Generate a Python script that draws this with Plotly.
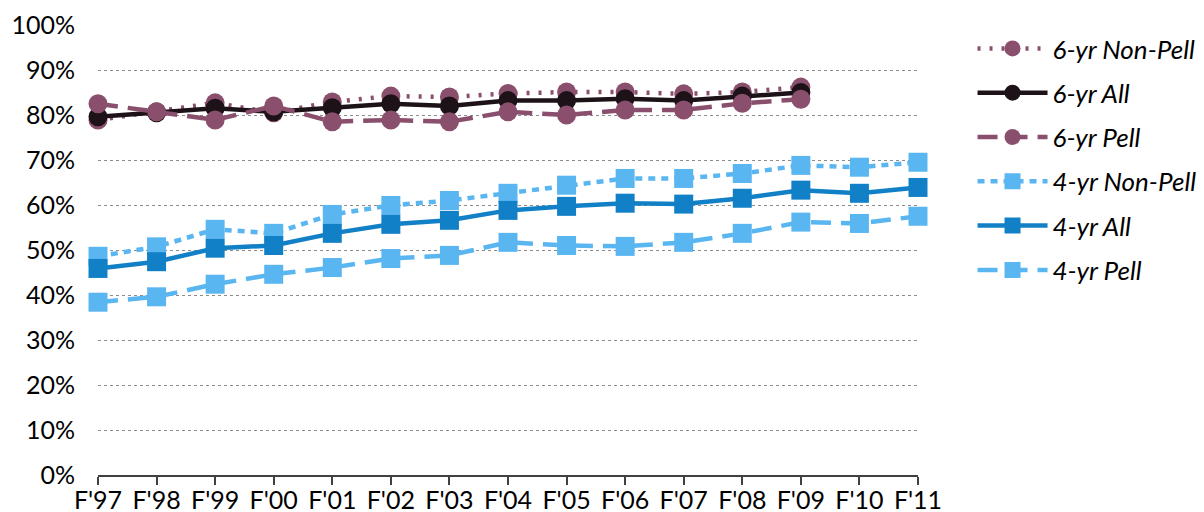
import plotly.graph_objects as go

years = ["F'97", "F'98", "F'99", "F'00", "F'01", "F'02", "F'03", "F'04",
         "F'05", "F'06", "F'07", "F'08", "F'09", "F'10", "F'11"]

six_nonpell = [78.9, 80.7, 82.7, 80.5, 82.9, 84.2, 84.0, 84.8, 85.1, 85.1, 84.7, 85.1, 86.2]
six_all = [79.6, 80.5, 81.5, 80.7, 81.6, 82.5, 82.0, 83.2, 83.2, 83.6, 83.2, 84.2, 85.0]
six_pell = [82.5, 80.7, 78.9, 82.0, 78.5, 78.9, 78.5, 80.7, 80.0, 81.1, 81.1, 82.6, 83.5]
four_nonpell = [48.6, 50.7, 54.6, 53.7, 57.9, 59.9, 61.0, 62.6, 64.4, 65.9, 65.9, 67.0, 68.8, 68.4, 69.5]
four_all = [45.9, 47.4, 50.4, 51.0, 53.7, 55.7, 56.6, 58.8, 59.7, 60.4, 60.2, 61.5, 63.3, 62.6, 63.9]
four_pell = [38.4, 39.6, 42.4, 44.6, 46.1, 48.1, 48.8, 51.7, 51.0, 50.8, 51.7, 53.7, 56.2, 55.9, 57.5]

MAUVE = "#8A4F6C"
DARK = "#1C1218"
LIGHT_BLUE = "#5AB6F1"
BLUE = "#1280C6"

series = [
    ("6-yr Non-Pell", six_nonpell, MAUVE, "3px,9px", "circle", 19),
    ("6-yr All", six_all, DARK, "solid", "circle", 19),
    ("6-yr Pell", six_pell, MAUVE, "20px,10px", "circle", 19),
    ("4-yr Non-Pell", four_nonpell, LIGHT_BLUE, "7px,6px", "square", 19),
    ("4-yr All", four_all, BLUE, "solid", "square", 19),
    ("4-yr Pell", four_pell, LIGHT_BLUE, "20px,10px", "square", 19),
]

fig = go.Figure()
for i, (name, vals, color, dash, symbol, size) in enumerate(series):
    fig.add_trace(go.Scatter(
        x=years[:len(vals)], y=vals, name="<i>" + name + "</i>",
        mode="lines+markers", legendgroup="g%d" % i,
        line=dict(color=color, width=4.5, dash=dash),
        marker=dict(color=color, size=size, symbol=symbol),
        cliponaxis=False,
    ))

FONT = "Lato"
fig.update_layout(
    width=1204, height=512, autosize=False,
    margin=dict(l=90, r=294, t=17, b=45, autoexpand=False),
    plot_bgcolor="white", paper_bgcolor="white",
    font=dict(family=FONT, size=25, color="#000000"),
    showlegend=True,
    legend=dict(x=1.0665, y=1.0, xanchor="left", yanchor="top",
                font=dict(family=FONT, size=26, color="#000000"),
                tracegroupgap=7.5, itemwidth=70, bgcolor="rgba(0,0,0,0)"),
    xaxis=dict(type="category", categoryorder="array", categoryarray=years,
               range=[0, len(years) - 1], showgrid=False, automargin=False,
               showline=True, linecolor="#404040", linewidth=2,
               ticks="outside", ticklen=8, tickcolor="#404040", tickwidth=1.5,
               ticklabelstandoff=-6,
               tickfont=dict(family=FONT, size=25, color="#000000")),
    yaxis=dict(range=[0, 100], dtick=10, ticksuffix="%", automargin=False,
               showgrid=True, gridcolor="#8C8C8C", gridwidth=1, griddash="dot",
               zeroline=False, showline=False, ticks="",
               ticklabelstandoff=22,
               tickfont=dict(family=FONT, size=25, color="#000000")),
)

fig.write_html("out.html")
